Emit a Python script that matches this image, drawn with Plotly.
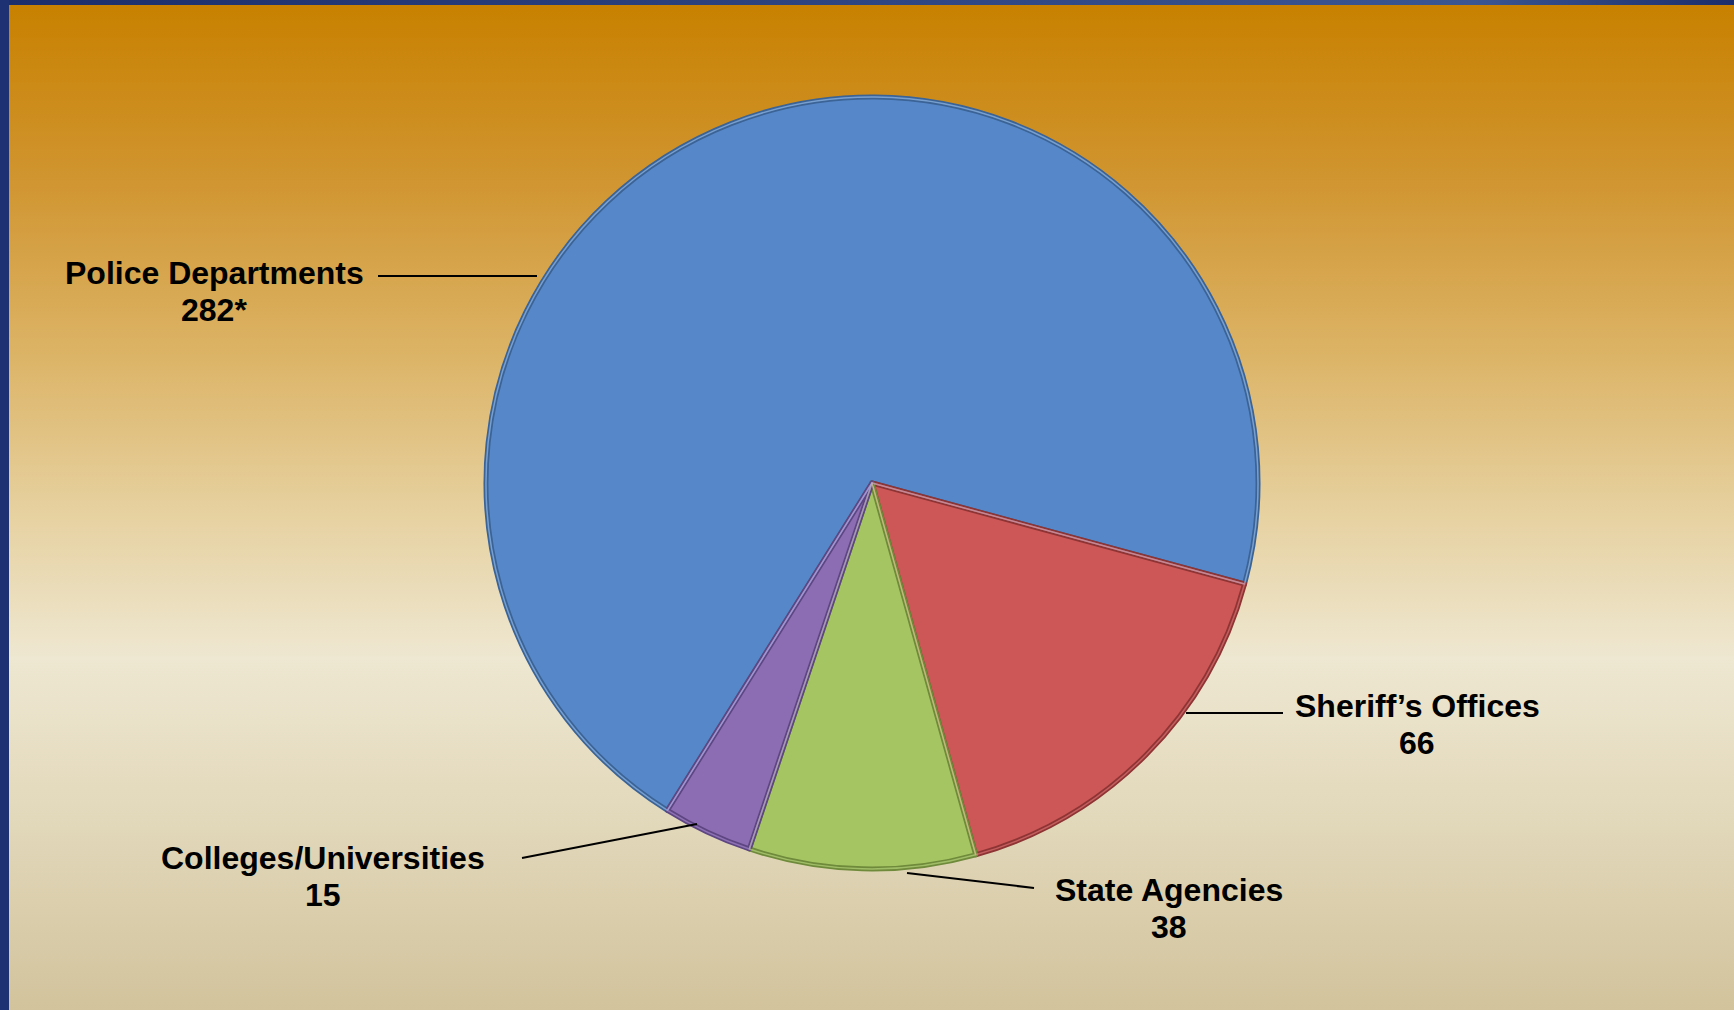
import base64
import plotly.graph_objects as go

# ---- data ----
categories = ["Police Departments", "Sheriff\u2019s Offices", "State Agencies", "Colleges/Universities"]
values = [282, 66, 38, 15]
value_labels = ["282*", "66", "38", "15"]
colors = ["#5688C9", "#CD5656", "#A5C563", "#8C6CB3"]
edge_colors = ["#3B6396", "#8E3434", "#6E8A3A", "#5E4682"]

W, H = 1734, 1010

def px(x):
    return x / W

def py(y):
    return 1 - y / H

# ---- background (gradient + navy frame) as an SVG image ----
svg = f"""<svg xmlns='http://www.w3.org/2000/svg' width='{W}' height='{H}' viewBox='0 0 {W} {H}' preserveAspectRatio='none'>
<defs>
<linearGradient id='b' x1='0' y1='0' x2='1' y2='0'>
<stop offset='0' stop-color='#1C2E6C'/><stop offset='0.85' stop-color='#3A5692'/><stop offset='1' stop-color='#1C2E6C'/>
</linearGradient>
<linearGradient id='g' x1='0' y1='0' x2='0' y2='1'>
<stop offset='0' stop-color='#C88100'/>
<stop offset='0.18' stop-color='#D19632'/>
<stop offset='0.35' stop-color='#DCB467'/>
<stop offset='0.5' stop-color='#E6D09E'/>
<stop offset='0.65' stop-color='#EEE7D1'/>
<stop offset='0.82' stop-color='#E1D7B9'/>
<stop offset='1' stop-color='#D2C39C'/>
</linearGradient>
</defs>
<rect x='0' y='0' width='{W}' height='{H}' fill='url(#b)'/>
<rect x='0' y='0' width='9' height='{H}' fill='#1E3172'/>
<rect x='9' y='5' width='{W-9}' height='{H-5}' fill='url(#g)'/>
</svg>"""
bg = "data:image/svg+xml;base64," + base64.b64encode(svg.encode()).decode()

# ---- pie geometry (layout) ----
cx, cy, r = 872, 483, 386
dom_x = [px(cx - r), px(cx + r)]
dom_y = [py(cy + r), py(cy - r)]

fig = go.Figure()
fig.add_trace(go.Pie(
    labels=categories, values=values, sort=False, direction="clockwise",
    rotation=212, domain=dict(x=dom_x, y=dom_y),
    marker=dict(colors=colors, line=dict(color=edge_colors, width=5)),
    textinfo="none", hoverinfo="label+value", showlegend=False,
))
fig.add_trace(go.Pie(
    labels=categories, values=values, sort=False, direction="clockwise",
    rotation=212, domain=dict(x=dom_x, y=dom_y),
    marker=dict(colors=["rgba(0,0,0,0)"] * 4,
                line=dict(color=["rgba(160,200,245,0.6)", "rgba(240,130,130,0.55)",
                                 "rgba(200,230,140,0.55)", "rgba(180,150,220,0.55)"], width=1.5)),
    textinfo="none", hoverinfo="skip", showlegend=False,
))

# ---- labels and leader lines (layout positions) ----
label_pos = [(214, 273), (1417, 706), (1169, 890), (323, 858)]
line_gap = 37
leaders = [((378, 276), (537, 276)), ((1186, 713), (1283, 713)),
           ((907, 873), (1034, 888)), ((522, 858), (697, 824))]

font = dict(family="Liberation Sans, Arial, sans-serif", size=32, color="#000000")
annotations = []
for name, val, (lx, ly) in zip(categories, value_labels, label_pos):
    annotations.append(dict(
        x=px(lx), y=py(ly), xref="paper", yref="paper",
        text=f"<b>{name}</b>", showarrow=False,
        xanchor="center", yanchor="middle", font=font,
    ))
    annotations.append(dict(
        x=px(lx), y=py(ly + line_gap), xref="paper", yref="paper",
        text=f"<b>{val}</b>", showarrow=False,
        xanchor="center", yanchor="middle", font=font,
    ))

shapes = []
for (x0, y0), (x1, y1) in leaders:
    shapes.append(dict(type="line", xref="paper", yref="paper",
                       x0=px(x0), y0=py(y0), x1=px(x1), y1=py(y1),
                       line=dict(color="#000000", width=2)))

fig.update_layout(
    width=W, height=H,
    margin=dict(l=0, r=0, t=0, b=0),
    paper_bgcolor="rgba(0,0,0,0)", plot_bgcolor="rgba(0,0,0,0)",
    images=[dict(source=bg, xref="paper", yref="paper", x=0, y=1, sizex=1, sizey=1,
                 xanchor="left", yanchor="top", sizing="stretch", layer="below")],
    annotations=annotations, shapes=shapes,
)

fig.write_html(
    "out.html",
    config={"displayModeBar": False},
    post_script="document.body.style.margin='0';document.body.style.overflow='hidden';",
)
